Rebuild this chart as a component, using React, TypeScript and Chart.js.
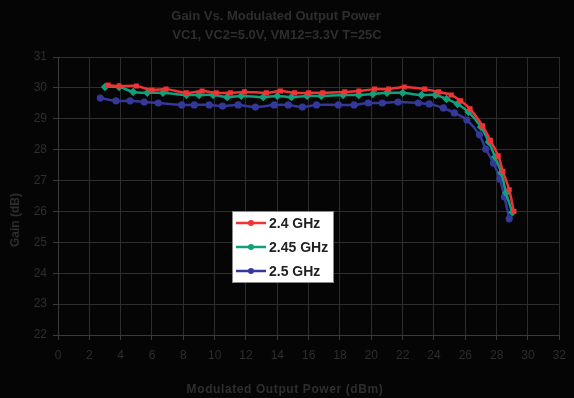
import React, { useEffect, useRef } from "react";
import { Chart, registerables } from "chart.js";

Chart.register(...registerables);

const titleLines = ["Gain Vs. Modulated Output Power", "VC1, VC2=5.0V, VM12=3.3V T=25C"];
const xTitle = "Modulated Output Power (dBm)";
const yTitle = "Gain (dB)";
const seriesNames = ["2.4 GHz", "2.45 GHz", "2.5 GHz"];
const seriesColors = ["#ee3434", "#12a07c", "#34389a"];

const x24 = [3.2, 3.9, 5.0, 6.0, 6.9, 8.2, 9.2, 10.1, 11.0, 11.9, 13.3, 14.2, 15.1, 16.0, 16.9, 18.3, 19.2, 20.2, 21.1, 22.1, 23.4, 24.3, 25.1, 25.7, 26.3, 27.1, 27.6, 28.1, 28.4, 28.8, 29.1];
const y24 = [30.09, 30.06, 30.06, 29.93, 29.96, 29.84, 29.9, 29.84, 29.84, 29.87, 29.84, 29.9, 29.84, 29.84, 29.84, 29.87, 29.9, 29.96, 29.96, 30.03, 29.96, 29.87, 29.77, 29.58, 29.32, 28.77, 28.3, 27.8, 27.3, 26.7, 26.0];

const x245 = [3.0, 3.9, 4.8, 5.7, 6.7, 8.2, 9.0, 9.9, 10.8, 11.7, 13.1, 14.0, 14.9, 15.9, 16.8, 18.2, 19.2, 20.1, 21.0, 22.0, 23.2, 24.1, 24.8, 25.5, 26.2, 27.0, 27.5, 27.9, 28.3, 28.6, 29.0];
const y245 = [30.03, 30.03, 29.87, 29.84, 29.84, 29.77, 29.77, 29.77, 29.7, 29.74, 29.7, 29.74, 29.7, 29.74, 29.74, 29.77, 29.77, 29.8, 29.84, 29.84, 29.77, 29.77, 29.64, 29.48, 29.22, 28.73, 28.25, 27.76, 27.25, 26.6, 25.97];

const x25 = [2.7, 3.7, 4.6, 5.5, 6.4, 7.9, 8.7, 9.65, 10.5, 11.5, 12.6, 13.8, 14.7, 15.6, 16.5, 17.9, 18.9, 19.8, 20.7, 21.7, 23.0, 23.7, 24.6, 25.3, 26.1, 26.9, 27.3, 27.8, 28.2, 28.5, 28.8];
const y25 = [29.67, 29.58, 29.58, 29.54, 29.51, 29.45, 29.45, 29.45, 29.41, 29.45, 29.38, 29.45, 29.45, 29.38, 29.45, 29.45, 29.45, 29.51, 29.51, 29.54, 29.51, 29.48, 29.35, 29.19, 28.96, 28.48, 28.02, 27.57, 27.05, 26.47, 25.76];

const pointStyles = ["rect", "rectRot", "circle"];
const pointRadii = [3.6, 4.2, 3.6];

const FONT = "'Liberation Sans', Arial, sans-serif";
const TEXT = "#2e2e2e";
const GRID = "#2e2e2e";

const zip = (xs: number[], ys: number[]) => xs.map((x, i) => ({ x, y: ys[i] }));

const decorPlugin = {
  id: "decor",
  beforeDraw(chart: any) {
    const ctx = chart.ctx;
    ctx.save();
    ctx.fillStyle = "#050505";
    ctx.fillRect(0, 0, chart.width, chart.height);
    ctx.restore();
  },
  afterDraw(chart: any) {
    const ctx = chart.ctx;
    ctx.save();
    ctx.fillStyle = TEXT;
    ctx.textAlign = "center";
    ctx.textBaseline = "middle";
    ctx.font = `bold 13px ${FONT}`;
    ctx.fillText(titleLines[0], 276, 16);
    ctx.fillText(titleLines[1], 277, 35);
    ctx.font = `bold 12px ${FONT}`;
    (ctx as any).letterSpacing = "0.6px";
    ctx.fillText(xTitle, 285, 390);
    (ctx as any).letterSpacing = "0px";
    ctx.translate(16, 220);
    ctx.rotate(-Math.PI / 2);
    ctx.fillText(yTitle, 0, 0);
    ctx.restore();

    // legend
    ctx.save();
    const bx = 232, by = 211, bw = 101, bh = 71;
    ctx.fillStyle = "#ffffff";
    ctx.fillRect(bx, by, bw, bh);
    ctx.strokeStyle = "#8a8a8a";
    ctx.lineWidth = 1;
    ctx.strokeRect(bx + 0.5, by + 0.5, bw, bh);
    const rows = [223, 247, 271];
    chart.data.datasets.forEach((ds: any, i: number) => {
      const y = rows[i];
      ctx.strokeStyle = ds.borderColor;
      ctx.lineWidth = 2.5;
      ctx.beginPath();
      ctx.moveTo(236, y);
      ctx.lineTo(266, y);
      ctx.stroke();
      ctx.fillStyle = ds.borderColor;
      ctx.beginPath();
      ctx.arc(251, y, 3, 0, Math.PI * 2);
      ctx.fill();
      ctx.fillStyle = "#222222";
      ctx.font = `bold 14px ${FONT}`;
      ctx.textAlign = "left";
      ctx.textBaseline = "middle";
      ctx.fillText(ds.label, 269, y + 1);
    });
    ctx.restore();
  },
};

export default function App() {
  const ref = useRef<HTMLCanvasElement | null>(null);
  useEffect(() => {
    document.body.style.margin = "0";
    document.body.style.background = "#050505";
    const xs = [x24, x245, x25];
    const ys = [y24, y245, y25];
    const chart = new Chart(ref.current as HTMLCanvasElement, {
      type: "line",
      data: {
        datasets: seriesNames.map((name, i) => ({
          label: name,
          data: zip(xs[i], ys[i]),
          borderColor: seriesColors[i],
          backgroundColor: seriesColors[i],
          borderWidth: 2.5,
          pointStyle: pointStyles[i] as any,
          pointRadius: pointRadii[i],
          pointBorderWidth: 0,
          tension: 0.3,
          fill: false,
        })),
      },
      options: {
        responsive: false,
        animation: false,
        layout: { padding: { top: 57, right: 12, bottom: 0, left: 0 } },
        plugins: { legend: { display: false }, title: { display: false }, tooltip: { enabled: false } },
        scales: {
          x: {
            type: "linear",
            min: 0,
            max: 32,
            afterFit: (s: any) => { s.height = 63; },
            ticks: { stepSize: 2, color: TEXT, font: { family: FONT, size: 12 }, padding: 8, maxRotation: 0, autoSkip: false },
            grid: { color: GRID, lineWidth: 1, tickLength: 5, tickColor: "#3a3a3a" },
            border: { color: "#3a3a3a", width: 1 },
          },
          y: {
            min: 22,
            max: 31,
            afterFit: (s: any) => { s.width = 58; },
            ticks: { stepSize: 1, color: TEXT, font: { family: FONT, size: 12 }, padding: 6 },
            grid: { color: GRID, lineWidth: 1, tickLength: 5, tickColor: "#3a3a3a" },
            border: { color: "#3a3a3a", width: 1 },
          },
        },
      },
      plugins: [decorPlugin],
    });
    return () => chart.destroy();
  }, []);
  return <canvas ref={ref} width={574} height={398} style={{ display: "block" }} />;
}
